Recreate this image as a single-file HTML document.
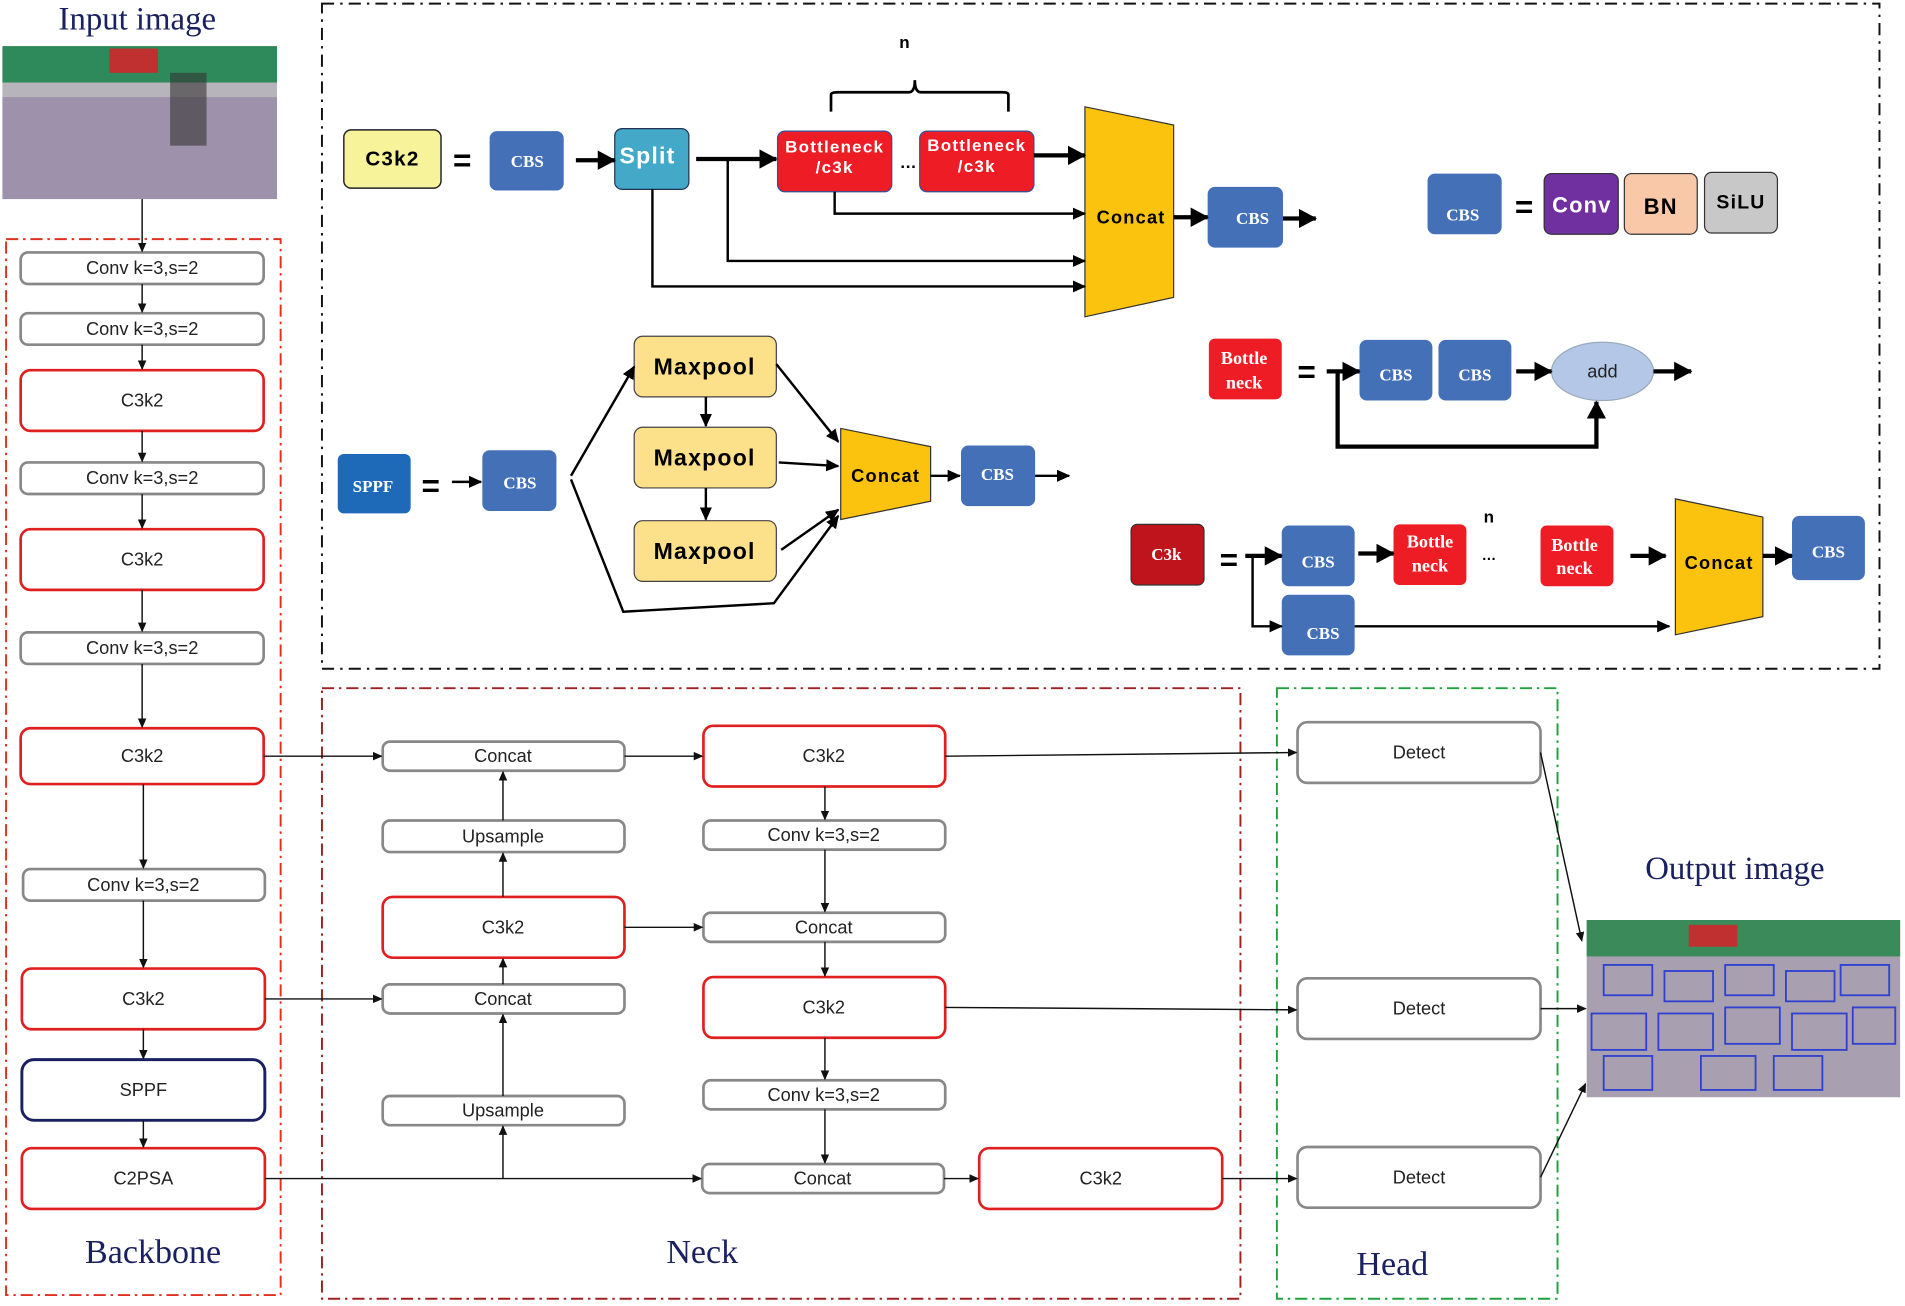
<!DOCTYPE html>
<html><head><meta charset="utf-8"><style>
html,body{margin:0;padding:0;background:#fff;}
svg{display:block}
.s{font-family:"Liberation Sans",sans-serif;font-size:15px;fill:#222;text-anchor:middle;dominant-baseline:central}
.b{font-family:"Liberation Sans",sans-serif;font-weight:bold;text-anchor:middle;dominant-baseline:central;letter-spacing:1px}
.sr{font-family:"Liberation Serif",serif;text-anchor:middle;dominant-baseline:central}
.g{fill:#fff;stroke:#888;stroke-width:2.2}
.r{fill:#fff;stroke:#e02020;stroke-width:2.2}
.l{stroke:#111;stroke-width:1.2;fill:none}
.t{stroke:#000;stroke-width:3.5;fill:none}
.t2{stroke:#000;stroke-width:2;fill:none}
</style></head><body>
<svg width="1905" height="1306" viewBox="0 0 1568 1076" preserveAspectRatio="none">
<defs>
<marker id="a" markerWidth="8" markerHeight="8" refX="7" refY="4" orient="auto" markerUnits="userSpaceOnUse"><path d="M0,0.5 L8,4 L0,7.5z" fill="#111"/></marker>
<marker id="A" markerWidth="16" markerHeight="16" refX="14" refY="8" orient="auto" markerUnits="userSpaceOnUse"><path d="M0,0 L15,8 L0,16z" fill="#000"/></marker>
<marker id="m" markerWidth="12" markerHeight="12" refX="10" refY="6" orient="auto" markerUnits="userSpaceOnUse"><path d="M0,1 L11,6 L0,11z" fill="#000"/></marker>
</defs>

<!-- region boxes -->
<rect x="5" y="197" width="226" height="870" fill="none" stroke="#e03020" stroke-width="1.6" stroke-dasharray="10,4,2,4"/>
<rect x="265" y="567" width="756" height="503" fill="none" stroke="#a02020" stroke-width="1.6" stroke-dasharray="10,4,2,4"/>
<rect x="1051" y="567" width="231" height="503" fill="none" stroke="#20a040" stroke-width="1.6" stroke-dasharray="10,4,2,4"/>
<rect x="265" y="3" width="1282" height="548" fill="none" stroke="#111" stroke-width="1.6" stroke-dasharray="10,5,2,5"/>

<text class="sr" x="113" y="16" font-size="27" fill="#1a2060">Input image</text>
<text class="sr" x="126" y="1032" font-size="28" fill="#1a2060">Backbone</text>
<text class="sr" x="578" y="1032" font-size="28" fill="#1a2060">Neck</text>
<text class="sr" x="1146" y="1042" font-size="28" fill="#1a2060">Head</text>
<text class="sr" x="1428" y="716" font-size="27" fill="#1a2060">Output image</text>

<!-- input image -->
<rect x="2" y="38" width="226" height="126" fill="#b8b4bc"/>
<rect x="2" y="38" width="226" height="30" fill="#2e8a5a"/>
<rect x="90" y="40" width="40" height="20" fill="#c03030"/>
<rect x="2" y="80" width="226" height="84" fill="#8a7aa0" opacity="0.6"/>
<rect x="140" y="60" width="30" height="60" fill="#333" opacity="0.6"/>
<!-- output image -->
<rect x="1306" y="758" width="258" height="146" fill="#a8a0b0"/>
<rect x="1306" y="758" width="258" height="30" fill="#3a8a5a"/>
<rect x="1390" y="762" width="40" height="18" fill="#c03030"/>
<g fill="none" stroke="#3040d0" stroke-width="1.5">
<rect x="1320" y="795" width="40" height="25"/><rect x="1370" y="800" width="40" height="25"/><rect x="1420" y="795" width="40" height="25"/><rect x="1470" y="800" width="40" height="25"/><rect x="1515" y="795" width="40" height="25"/>
<rect x="1310" y="835" width="45" height="30"/><rect x="1365" y="835" width="45" height="30"/><rect x="1420" y="830" width="45" height="30"/><rect x="1475" y="835" width="45" height="30"/><rect x="1525" y="830" width="35" height="30"/>
<rect x="1320" y="870" width="40" height="28"/><rect x="1400" y="870" width="45" height="28"/><rect x="1460" y="870" width="40" height="28"/>
</g>

<!-- backbone -->
<g>
<rect class="g" x="17" y="208" width="200" height="26" rx="6"/><text class="s" x="117" y="221">Conv k=3,s=2</text>
<rect class="g" x="17" y="258" width="200" height="26" rx="6"/><text class="s" x="117" y="271">Conv k=3,s=2</text>
<rect class="r" x="17" y="305" width="200" height="50" rx="8"/><text class="s" x="117" y="330">C3k2</text>
<rect class="g" x="17" y="381" width="200" height="26" rx="6"/><text class="s" x="117" y="394">Conv k=3,s=2</text>
<rect class="r" x="17" y="436" width="200" height="50" rx="8"/><text class="s" x="117" y="461">C3k2</text>
<rect class="g" x="17" y="521" width="200" height="26" rx="6"/><text class="s" x="117" y="534">Conv k=3,s=2</text>
<rect class="r" x="17" y="600" width="200" height="46" rx="8"/><text class="s" x="117" y="623">C3k2</text>
<rect class="g" x="19" y="716" width="199" height="26" rx="6"/><text class="s" x="118" y="729">Conv k=3,s=2</text>
<rect class="r" x="18" y="798" width="200" height="50" rx="8"/><text class="s" x="118" y="823">C3k2</text>
<rect x="18" y="873" width="200" height="50" rx="10" fill="#fff" stroke="#1a2060" stroke-width="2.4"/><text class="s" x="118" y="898">SPPF</text>
<rect class="r" x="18" y="946" width="200" height="50" rx="8"/><text class="s" x="118" y="971">C2PSA</text>
</g>
<g class="l" marker-end="url(#a)">
<path d="M117,164 V207"/><path d="M117,234 V257"/><path d="M117,284 V304"/><path d="M117,355 V380"/><path d="M117,407 V435"/><path d="M117,486 V520"/><path d="M117,547 V599"/><path d="M118,646 V715"/><path d="M118,742 V797"/><path d="M118,848 V872"/><path d="M118,923 V945"/>
</g>

<!-- neck -->
<rect class="g" x="315" y="611" width="199" height="24" rx="6"/><text class="s" x="414" y="623">Concat</text>
<rect class="g" x="315" y="676" width="199" height="26" rx="6"/><text class="s" x="414" y="689">Upsample</text>
<rect class="r" x="315" y="739" width="199" height="50" rx="8"/><text class="s" x="414" y="764">C3k2</text>
<rect class="g" x="315" y="811" width="199" height="24" rx="6"/><text class="s" x="414" y="823">Concat</text>
<rect class="g" x="315" y="903" width="199" height="24" rx="6"/><text class="s" x="414" y="915">Upsample</text>
<rect class="r" x="579" y="598" width="199" height="50" rx="8"/><text class="s" x="678" y="623">C3k2</text>
<rect class="g" x="579" y="676" width="199" height="24" rx="6"/><text class="s" x="678" y="688">Conv k=3,s=2</text>
<rect class="g" x="579" y="752" width="199" height="24" rx="6"/><text class="s" x="678" y="764">Concat</text>
<rect class="r" x="579" y="805" width="199" height="50" rx="8"/><text class="s" x="678" y="830">C3k2</text>
<rect class="g" x="579" y="890" width="199" height="24" rx="6"/><text class="s" x="678" y="902">Conv k=3,s=2</text>
<rect class="g" x="578" y="959" width="199" height="24" rx="6"/><text class="s" x="677" y="971">Concat</text>
<rect class="r" x="806" y="946" width="200" height="50" rx="8"/><text class="s" x="906" y="971">C3k2</text>
<!-- head -->
<rect class="g" x="1068" y="595" width="200" height="50" rx="8"/><text class="s" x="1168" y="620">Detect</text>
<rect class="g" x="1068" y="806" width="200" height="50" rx="8"/><text class="s" x="1168" y="831">Detect</text>
<rect class="g" x="1068" y="945" width="200" height="50" rx="8"/><text class="s" x="1168" y="970">Detect</text>

<g class="l" marker-end="url(#a)">
<path d="M217,623 H314"/><path d="M514,623 H578"/><path d="M414,676 V636"/><path d="M414,739 V703"/><path d="M414,811 V790"/><path d="M414,903 V836"/>
<path d="M218,823 H314"/><path d="M514,764 H578"/><path d="M218,971 H577"/><path d="M414,971 V928"/>
<path d="M679,648 V675"/><path d="M679,700 V751"/><path d="M679,776 V804"/><path d="M679,855 V889"/><path d="M679,914 V958"/>
<path d="M777,971 H805"/><path d="M778,623 L1067,620"/><path d="M778,830 L1067,832"/><path d="M1006,971 H1067"/>
<path d="M1268,620 L1302,775"/><path d="M1268,831 H1305"/><path d="M1268,970 L1305,893"/>
</g>

<!-- TOP: C3k2 -->
<rect x="283" y="107" width="80" height="48" rx="6" fill="#f7f39a" stroke="#222" stroke-width="1.2"/><text class="b" x="323" y="131" font-size="17">C3k2</text>
<text class="b" x="381" y="132" font-size="26">=</text>
<rect x="403" y="108" width="61" height="49" rx="6" fill="#4470b8"/><text class="sr" x="434" y="133" font-size="14" font-weight="bold" fill="#fff">CBS</text>
<rect x="506" y="106" width="61" height="50" rx="6" fill="#44a8c8" stroke="#235" stroke-width="1"/><text class="b" x="533" y="128" font-size="19" fill="#fff">Split</text>
<rect x="640" y="108" width="94" height="50" rx="6" fill="#ee1c24" stroke="#3050a0" stroke-width="1"/><text class="b" x="687" y="121" font-size="14" fill="#fff">Bottleneck</text><text class="b" x="687" y="138" font-size="14" fill="#fff">/c3k</text>
<text class="b" x="748" y="134" font-size="14">…</text>
<rect x="757" y="108" width="94" height="50" rx="6" fill="#ee1c24" stroke="#3050a0" stroke-width="1"/><text class="b" x="804" y="120" font-size="14" fill="#fff">Bottleneck</text><text class="b" x="804" y="137" font-size="14" fill="#fff">/c3k</text>
<path d="M684,92 V78 Q684,76 690,76 H748 Q753,76 753,66 Q753,76 758,76 H825 Q830,76 830,78 V92" fill="none" stroke="#000" stroke-width="2.2"/>
<text class="b" x="745" y="35" font-size="14">n</text>
<polygon points="893,88 966,103 966,245 893,261" fill="#fbc20e" stroke="#333" stroke-width="1"/>
<text class="b" x="931" y="179" font-size="15">Concat</text>
<rect x="994" y="154" width="62" height="50" rx="6" fill="#4470b8"/><text class="sr" x="1031" y="180" font-size="14" font-weight="bold" fill="#fff">CBS</text>
<g class="t" marker-end="url(#A)">
<path d="M474,132 H506"/><path d="M573,131 H639"/><path d="M851,128 H893"/><path d="M966,179 H994"/><path d="M1056,180 H1083"/>
</g>
<g class="t2" marker-end="url(#m)">
<path d="M687,158 V176 H893"/><path d="M599,131 V215 H893"/><path d="M537,156 V236 H893"/>
</g>

<!-- CBS def -->
<rect x="1175" y="143" width="61" height="50" rx="6" fill="#4470b8"/><text class="sr" x="1204" y="177" font-size="14" font-weight="bold" fill="#fff">CBS</text>
<text class="b" x="1255" y="170" font-size="26">=</text>
<rect x="1271" y="143" width="61" height="50" rx="6" fill="#7030a0" stroke="#333" stroke-width="1"/><text class="b" x="1302" y="169" font-size="18" fill="#fff">Conv</text>
<rect x="1337" y="143" width="60" height="50" rx="6" fill="#f8c8a8" stroke="#333" stroke-width="1"/><text class="b" x="1367" y="170" font-size="18">BN</text>
<rect x="1403" y="142" width="60" height="50" rx="6" fill="#c8c8c8" stroke="#333" stroke-width="1"/><text class="b" x="1433" y="167" font-size="16">SiLU</text>

<!-- Bottleneck def -->
<rect x="995" y="279" width="60" height="50" rx="5" fill="#ee1c24"/><text class="sr" x="1024" y="295" font-size="15" font-weight="bold" fill="#fff">Bottle</text><text class="sr" x="1024" y="315" font-size="15" font-weight="bold" fill="#fff">neck</text>
<text class="b" x="1076" y="306" font-size="26">=</text>
<rect x="1119" y="280" width="60" height="50" rx="6" fill="#4470b8"/><text class="sr" x="1149" y="309" font-size="14" font-weight="bold" fill="#fff">CBS</text>
<rect x="1184" y="280" width="60" height="50" rx="6" fill="#4470b8"/><text class="sr" x="1214" y="309" font-size="14" font-weight="bold" fill="#fff">CBS</text>
<ellipse cx="1319" cy="306" rx="42" ry="24" fill="#b4c7e7" stroke="#9ab" stroke-width="1"/><text class="s" x="1319" y="306" font-size="18">add</text>
<g class="t" marker-end="url(#A)"><path d="M1092,306 H1119"/><path d="M1248,306 H1277"/><path d="M1361,306 H1392"/><path d="M1101,306 V368 H1314 V331"/></g>

<!-- SPPF def -->
<rect x="278" y="374" width="60" height="49" rx="5" fill="#1e6ab8"/><text class="sr" x="307" y="401" font-size="14" font-weight="bold" fill="#fff">SPPF</text>
<text class="b" x="355" y="400" font-size="26">=</text>
<rect x="397" y="371" width="61" height="50" rx="6" fill="#4470b8"/><text class="sr" x="428" y="398" font-size="14" font-weight="bold" fill="#fff">CBS</text>
<rect x="522" y="277" width="117" height="50" rx="7" fill="#fde08a" stroke="#444" stroke-width="1"/><text class="b" x="580" y="302" font-size="19">Maxpool</text>
<rect x="522" y="352" width="117" height="50" rx="7" fill="#fde08a" stroke="#444" stroke-width="1"/><text class="b" x="580" y="377" font-size="19">Maxpool</text>
<rect x="522" y="429" width="117" height="50" rx="7" fill="#fde08a" stroke="#444" stroke-width="1"/><text class="b" x="580" y="454" font-size="19">Maxpool</text>
<polygon points="692,353 766,368 766,413 692,428" fill="#fbc20e" stroke="#333" stroke-width="1"/>
<text class="b" x="729" y="392" font-size="15">Concat</text>
<rect x="791" y="367" width="61" height="50" rx="6" fill="#4470b8"/><text class="sr" x="821" y="391" font-size="14" font-weight="bold" fill="#fff">CBS</text>
<g class="t2" marker-end="url(#m)">
<path d="M372,397 H396"/><path d="M470,392 L522,302"/><path d="M581,327 V351"/><path d="M581,402 V428"/>
<path d="M639,300 L690,364"/><path d="M641,381 L690,384"/><path d="M643,453 L690,420"/>
<path d="M470,395 L513,504 L637,497 L690,425"/><path d="M766,392 H790"/><path d="M852,392 H880"/>
</g>

<!-- C3k def -->
<rect x="931" y="432" width="60" height="50" rx="5" fill="#c0141c" stroke="#333" stroke-width="1"/><text class="sr" x="960" y="457" font-size="14" font-weight="bold" fill="#fff">C3k</text>
<text class="b" x="1012" y="461" font-size="26">=</text>
<rect x="1055" y="433" width="60" height="50" rx="6" fill="#4470b8"/><text class="sr" x="1085" y="463" font-size="14" font-weight="bold" fill="#fff">CBS</text>
<rect x="1055" y="490" width="60" height="50" rx="6" fill="#4470b8"/><text class="sr" x="1089" y="522" font-size="14" font-weight="bold" fill="#fff">CBS</text>
<rect x="1147" y="432" width="60" height="50" rx="5" fill="#ee1c24"/><text class="sr" x="1177" y="446" font-size="15" font-weight="bold" fill="#fff">Bottle</text><text class="sr" x="1177" y="466" font-size="15" font-weight="bold" fill="#fff">neck</text>
<text class="b" x="1226" y="426" font-size="14">n</text><text class="b" x="1226" y="458" font-size="12">…</text>
<rect x="1268" y="433" width="60" height="50" rx="5" fill="#ee1c24"/><text class="sr" x="1296" y="449" font-size="15" font-weight="bold" fill="#fff">Bottle</text><text class="sr" x="1296" y="468" font-size="15" font-weight="bold" fill="#fff">neck</text>
<polygon points="1379,411 1451,426 1451,508 1379,523" fill="#fbc20e" stroke="#333" stroke-width="1"/>
<text class="b" x="1415" y="464" font-size="15">Concat</text>
<rect x="1475" y="425" width="60" height="53" rx="6" fill="#4470b8"/><text class="sr" x="1505" y="455" font-size="14" font-weight="bold" fill="#fff">CBS</text>
<g class="t" marker-end="url(#A)"><path d="M1025,458 H1055"/><path d="M1118,456 H1147"/><path d="M1342,458 H1371"/><path d="M1451,458 H1475"/></g>
<g class="t2" marker-end="url(#m)"><path d="M1031,458 V516 H1055"/><path d="M1115,516 H1374"/></g>
</svg>
</body></html>
